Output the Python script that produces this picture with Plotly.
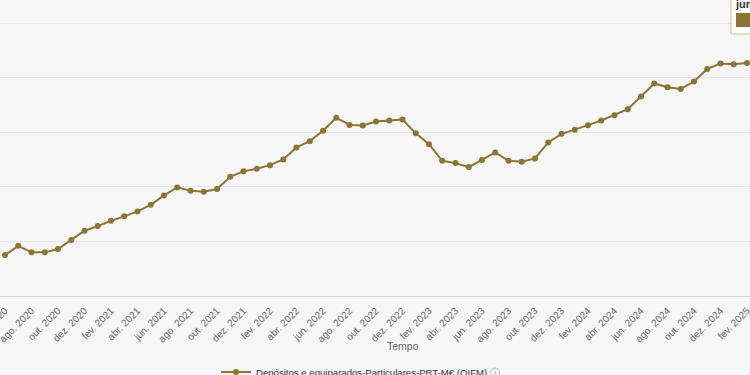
import plotly.graph_objects as go

months_pt = ["jan.", "fev.", "mar.", "abr.", "mai.", "jun.", "jul.", "ago.", "set.", "out.", "nov.", "dez."]

# jun. 2020 .. fev. 2025
periods = []
y, m = 2020, 6
while (y, m) <= (2025, 2):
    periods.append(f"{months_pt[m-1]} {y}")
    m += 1
    if m > 12:
        m = 1
        y += 1

values = [
    157500, 159200, 158000, 158000, 158600, 160260, 161960,          # jun-dez 2020
    162820, 163790, 164600, 165510, 166720, 168440, 169910, 169290,  # jan-ago 2021
    169100, 169600, 171850, 172890,                                  # set-dez 2021
    173320, 173990, 175040, 177230, 178390, 180280, 182660, 181370,  # jan-ago 2022
    181260, 182000, 182180, 182360,                                  # set-dez 2022
    179850, 177840, 174780, 174360, 173630, 174910, 176320, 174780,  # jan-ago 2023
    174600, 175220, 178150, 179730,                                  # set-dez 2023
    180460, 181320, 182180, 183150, 184250, 186580, 188960, 188280,  # jan-ago 2024
    187970, 189320, 191630, 192620,                                  # set-dez 2024
    192490, 192730,                                                  # jan-fev 2025
]

tick_labels = periods[::2]

series_name = 'Depósitos e equiparados-Particulares-PRT-M€ (OIFM) <span style="color:#9a9a9a">ⓘ</span>'
line_color = "#8c7437"
bg = "#f6f6f6"

fig = go.Figure()
fig.add_trace(go.Scatter(
    x=periods, y=values, mode="lines+markers", name=series_name,
    line=dict(color=line_color, width=2),
    marker=dict(color=line_color, size=6),
    hovertemplate="%{x}<br>%{y:,.0f}<extra></extra>",
))

fig.update_layout(
    width=750, height=375,
    margin=dict(l=0, r=0, t=0, b=79, autoexpand=False),
    paper_bgcolor=bg, plot_bgcolor=bg,
    font=dict(family="Liberation Sans, Arial, sans-serif", color="#666666"),
    showlegend=True,
    legend=dict(orientation="h", x=0.288, xanchor="left", y=-0.2565, yanchor="middle",
                font=dict(size=9.6, color="#333333"), bgcolor="rgba(0,0,0,0)",
                itemwidth=30),
    xaxis=dict(
        type="category", range=[-0.377, 56.226], automargin=False,
        tickmode="array", tickvals=tick_labels, ticktext=tick_labels,
        tickangle=-45, tickfont=dict(size=10, color="#666666"),
        showgrid=False, showline=True, linecolor="#ccd6eb", linewidth=1,
        ticks="", ticklabelstandoff=4, zeroline=False,
    ),
    yaxis=dict(
        range=[150000, 204263], dtick=10000, tick0=150000, automargin=False,
        showticklabels=False, showgrid=True, gridcolor="#e6e6e6", gridwidth=1,
        zeroline=False, showline=False, ticks="",
    ),
    annotations=[
        dict(text="Tempo", xref="paper", yref="paper", x=403/750, y=-(346-296)/296,
             xanchor="center", yanchor="middle", showarrow=False,
             font=dict(size=10.5, color="#666666")),
        dict(text="<b>jun</b>", xref="paper", yref="paper", x=733/750, y=(296-4)/296,
             xanchor="left", yanchor="middle", showarrow=False,
             font=dict(size=11, color="#333333")),
    ],
    shapes=[
        dict(type="rect", xref="paper", yref="paper", x0=731/750, x1=1.03,
             y0=(296-34)/296, y1=1.05, fillcolor="rgba(252,252,250,0.92)",
             line=dict(color="#cbbd93", width=1)),
        dict(type="rect", xref="paper", yref="paper", x0=736/750, x1=1.01,
             y0=(296-27)/296, y1=(296-13)/296, fillcolor=line_color,
             line=dict(width=0)),
    ],
)

fig.write_html(
    "out.html",
    config={"displayModeBar": False},
    post_script="document.body.style.margin='0';document.body.style.overflow='hidden';",
)
